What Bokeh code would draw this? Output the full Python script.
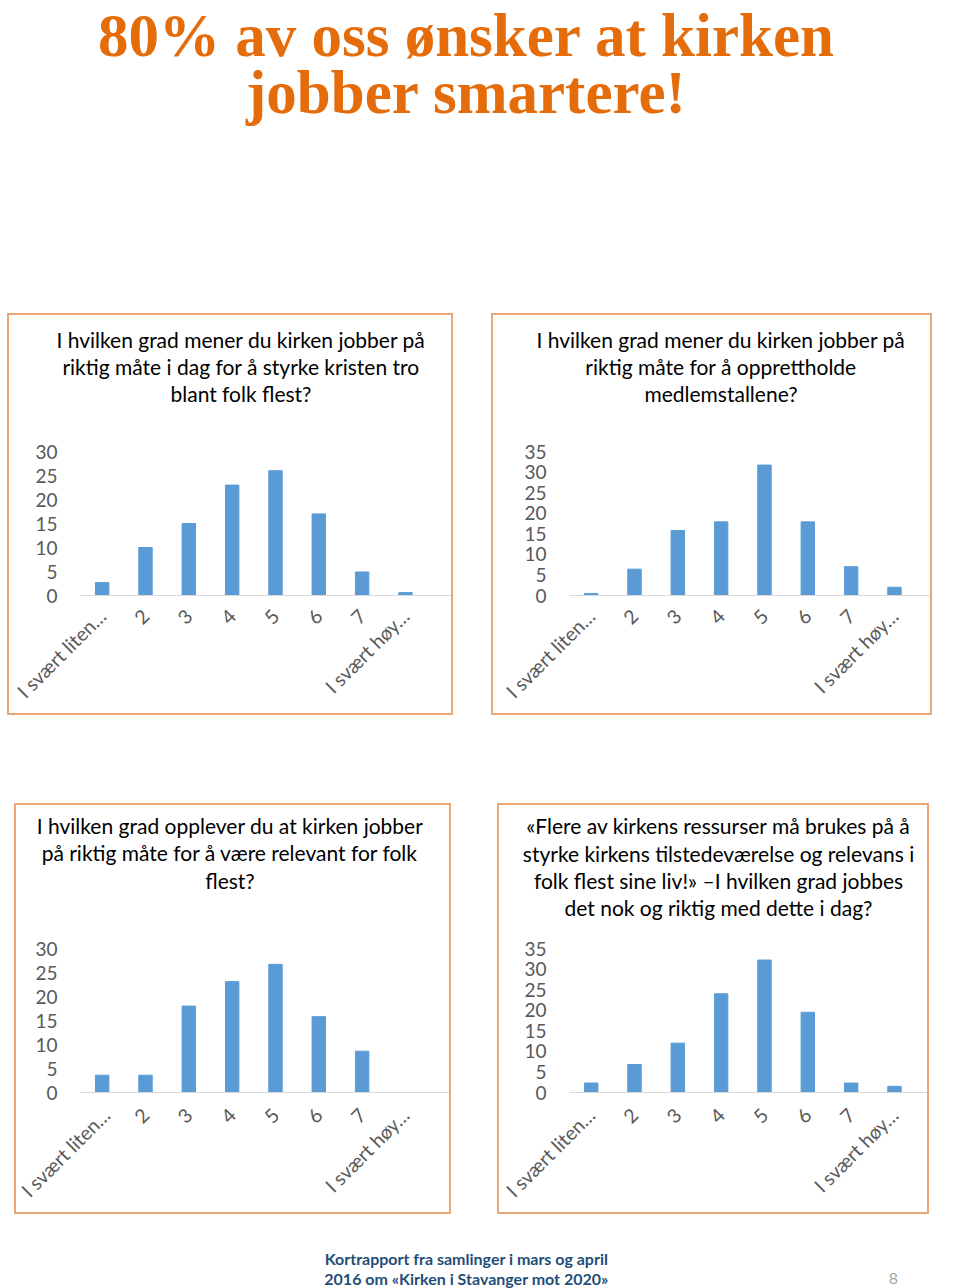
import math
from bokeh.plotting import figure
from bokeh.models import Range1d, FixedTicker, Spacer
from bokeh.layouts import column, row
from bokeh.embed import file_html
from bokeh.resources import INLINE
from bokeh.core.properties import value

# ---------------- data ----------------
categories = ["I svært liten…", "2", "3", "4", "5", "6", "7", "I svært høy…"]

q1_values = [2.7, 10, 15, 23, 26, 17, 4.9, 0.6]
q2_values = [0.5, 6.4, 15.8, 17.9, 31.7, 17.9, 7.0, 2.0]
q3_values = [3.6, 3.6, 18.0, 23.1, 26.7, 15.8, 8.6, 0]
q4_values = [2.3, 6.8, 12.0, 24.0, 32.2, 19.5, 2.3, 1.5]

q1_ticks = [0, 5, 10, 15, 20, 25, 30]
q2_ticks = [0, 5, 10, 15, 20, 25, 30, 35]
q3_ticks = [0, 5, 10, 15, 20, 25, 30]
q4_ticks = [0, 5, 10, 15, 20, 25, 30, 35]

q1_title = ["I hvilken grad mener du kirken jobber på",
            "riktig måte i dag for å styrke kristen tro",
            "blant folk flest?"]
q2_title = ["I hvilken grad mener du kirken jobber på",
            "riktig måte for å opprettholde",
            "medlemstallene?"]
q3_title = ["I hvilken grad opplever du at kirken jobber",
            "på riktig måte for å være relevant for folk",
            "flest?"]
q4_title = ["«Flere av kirkens ressurser må brukes på å",
            "styrke kirkens tilstedeværelse og relevans i",
            "folk flest sine liv!» –I hvilken grad jobbes",
            "det nok og riktig med dette i dag?"]

page_title = ["80% av oss ønsker at kirken", "jobber smartere!"]
footer_lines = ["Kortrapport fra samlinger i mars og april",
                "2016 om «Kirken i Stavanger mot 2020»"]
page_number = "8"

# ---------------- styles ----------------
BAR = "#5B9BD5"
ORANGE = "#E46C0A"
BORDER = "#EAA675"
TICK = "#595959"
FONT = "Lato"
STEP = 43.33  # pixels per category slot
B = 2         # panel border thickness


def blank_fig(w, h):
    p = figure(width=w, height=h, x_range=Range1d(0, w), y_range=Range1d(h, 0),
               toolbar_location=None, output_backend="svg",
               min_border=0, outline_line_color=None)
    p.axis.visible = False
    p.grid.visible = False
    return p


def edge(w, h):
    return Spacer(width=w, height=h, styles={"background-color": BORDER})


def gap(w, h):
    return Spacer(width=w, height=h)


def title_fig(lines, w, h, cx, ys):
    t = blank_fig(w, h)
    t.text(x=[cx] * len(lines), y=ys, text=lines, text_align="center",
           text_baseline="middle", text_font=value(FONT),
           text_font_size="21px", text_color="#000000")
    return t


def chart_fig(values, ymax, ticks, w, h, left, top, frame_h, standoff):
    fw = w - left
    p = figure(width=w, height=h,
               x_range=Range1d(-0.5, -0.5 + fw / STEP),
               y_range=Range1d(0, ymax),
               toolbar_location=None, output_backend="svg",
               min_border_left=left, min_border_right=0,
               min_border_top=top, min_border_bottom=h - top - frame_h,
               outline_line_color=None)
    p.grid.visible = False
    xs = list(range(len(categories)))
    p.vbar(x=xs, top=values, width=0.31, color=BAR)

    p.xaxis.ticker = FixedTicker(ticks=xs)
    p.xaxis.major_label_overrides = {i: c for i, c in zip(xs, categories)}
    p.xaxis.major_label_orientation = math.pi / 4
    p.xaxis.axis_line_color = "#D9D9D9"
    p.xaxis.axis_line_width = 1
    p.xaxis.major_tick_line_color = None
    p.xaxis.minor_tick_line_color = None
    p.xaxis.major_tick_out = 0
    p.xaxis.major_tick_in = 0
    p.xaxis.major_label_standoff = standoff
    p.xaxis.major_label_text_font = FONT
    p.xaxis.major_label_text_font_size = "19.5px"
    p.xaxis.major_label_text_color = TICK

    p.yaxis.ticker = FixedTicker(ticks=ticks)
    p.yaxis.axis_line_color = None
    p.yaxis.major_tick_line_color = None
    p.yaxis.minor_tick_line_color = None
    p.yaxis.major_tick_out = 0
    p.yaxis.major_tick_in = 0
    p.yaxis.major_label_standoff = 23
    p.yaxis.major_label_text_font = FONT
    p.yaxis.major_label_text_font_size = "19px"
    p.yaxis.major_label_text_color = TICK
    return p


# ---------- page title ----------
tp = blank_fig(960, 313)
tp.text(x=[466, 466], y=[35, 91.5], text=page_title, text_align="center",
        text_baseline="middle", text_font=value("Liberation Serif"),
        text_font_style="bold", text_font_size="61px", text_color=ORANGE)

# ---------- top pair of panels (boxes: x 7..453 and 491..932, y 313..715) ----------
W1, W2 = 446, 441
TA, CA = 105, 293
t1 = title_fig(q1_title, W1 - 2 * B, TA, 231.5, [24.2, 50.8, 77.8])
t2 = title_fig(q2_title, W2 - 2 * B, TA, 227.5, [24.2, 50.8, 77.8])
c1 = chart_fig(q1_values, 30, q1_ticks, W1 - 2 * B, CA, 71, 31, 145, 17)
c2 = chart_fig(q2_values, 35, q2_ticks, W2 - 2 * B, CA, 76, 31, 145, 17)

top_edges1 = row(gap(7, B), edge(W1, B), gap(38, B), edge(W2, B), gap(28, B))
rowA = row(gap(7, TA), edge(B, TA), t1, edge(B, TA), gap(38, TA),
           edge(B, TA), t2, edge(B, TA), gap(28, TA))
rowB = row(gap(7, CA), edge(B, CA), c1, edge(B, CA), gap(38, CA),
           edge(B, CA), c2, edge(B, CA), gap(28, CA))
bot_edges1 = row(gap(7, B), edge(W1, B), gap(38, B), edge(W2, B), gap(28, B))

middle_gap = gap(960, 88)

# ---------- bottom pair of panels (boxes: x 14..451 and 497..929, y 803..1214) ----------
W3, W4 = 437, 432
TC, CC = 120, 287
t3 = title_fig(q3_title, W3 - 2 * B, TC, 213.5, [20, 47, 74.5])
t4 = title_fig(q4_title, W4 - 2 * B, TC, 219, [20, 47.7, 74.5, 101.8])
c3 = chart_fig(q3_values, 30, q3_ticks, W3 - 2 * B, CC, 64, 23, 145, 19)
c4 = chart_fig(q4_values, 35, q4_ticks, W4 - 2 * B, CC, 70, 23, 145, 19)

top_edges2 = row(gap(14, B), edge(W3, B), gap(46, B), edge(W4, B), gap(31, B))
rowC = row(gap(14, TC), edge(B, TC), t3, edge(B, TC), gap(46, TC),
           edge(B, TC), t4, edge(B, TC), gap(31, TC))
rowD = row(gap(14, CC), edge(B, CC), c3, edge(B, CC), gap(46, CC),
           edge(B, CC), c4, edge(B, CC), gap(31, CC))
bot_edges2 = row(gap(14, B), edge(W3, B), gap(46, B), edge(W4, B), gap(31, B))

# ---------- footer ----------
fp = blank_fig(960, 74)
fp.text(x=[466, 466], y=[44, 64], text=footer_lines, text_align="center",
        text_baseline="middle", text_font=value(FONT), text_font_style="bold",
        text_font_size="16px", text_color="#1F4E79")
fp.text(x=[893], y=[64], text=[page_number], text_align="center",
        text_baseline="middle", text_font=value(FONT),
        text_font_size="16px", text_color="#A6A6A6")

layout = column(tp, top_edges1, rowA, rowB, bot_edges1, middle_gap,
                top_edges2, rowC, rowD, bot_edges2, fp)
open("out.html", "w").write(file_html(layout, INLINE))
